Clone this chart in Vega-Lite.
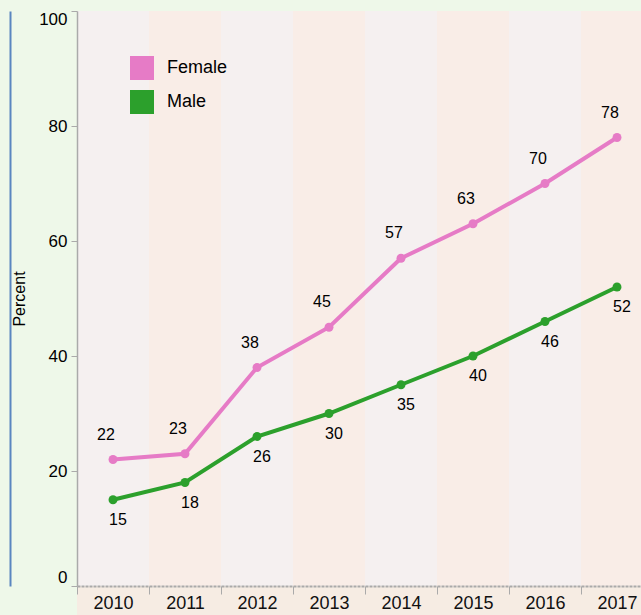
{
  "$schema": "https://vega.github.io/schema/vega-lite/v6.json",
  "width": 576,
  "height": 575,
  "autosize": {"type": "none"},
  "padding": {"left": 77, "top": 11, "right": 0, "bottom": 29},
  "background": "#eef8e9",
  "config": {
    "view": {"stroke": null},
    "font": "Liberation Sans",
    "text": {"font": "Liberation Sans"}
  },
  "resolve": {"axis": {"y": "independent"}},
  "datasets": {
    "bands": [
      {"Year": "2010"}, {"Year": "2011"}, {"Year": "2012"}, {"Year": "2013"},
      {"Year": "2014"}, {"Year": "2015"}, {"Year": "2016"}, {"Year": "2017"}
    ],
    "series": [
      {"Year": "2010", "Sex": "Female", "Percent": 22},
      {"Year": "2011", "Sex": "Female", "Percent": 23},
      {"Year": "2012", "Sex": "Female", "Percent": 38},
      {"Year": "2013", "Sex": "Female", "Percent": 45},
      {"Year": "2014", "Sex": "Female", "Percent": 57},
      {"Year": "2015", "Sex": "Female", "Percent": 63},
      {"Year": "2016", "Sex": "Female", "Percent": 70},
      {"Year": "2017", "Sex": "Female", "Percent": 78},
      {"Year": "2010", "Sex": "Male", "Percent": 15},
      {"Year": "2011", "Sex": "Male", "Percent": 18},
      {"Year": "2012", "Sex": "Male", "Percent": 26},
      {"Year": "2013", "Sex": "Male", "Percent": 30},
      {"Year": "2014", "Sex": "Male", "Percent": 35},
      {"Year": "2015", "Sex": "Male", "Percent": 40},
      {"Year": "2016", "Sex": "Male", "Percent": 46},
      {"Year": "2017", "Sex": "Male", "Percent": 52}
    ]
  },
  "layer": [
    {
      "data": {"name": "bands"},
      "mark": {"type": "rect"},
      "encoding": {
        "x": {"field": "Year", "type": "ordinal"},
        "y": {
          "datum": 0, "type": "quantitative",
          "axis": {
            "orient": "left", "offset": 67, "labels": false, "ticks": false,
            "title": null, "grid": false, "domainColor": "#5a86c0", "domainWidth": 2
          }
        },
        "y2": {"datum": 100},
        "fill": {
          "field": "Year", "type": "ordinal", "legend": null,
          "scale": {
            "domain": ["2010", "2011", "2012", "2013", "2014", "2015", "2016", "2017"],
            "range": ["#f5f0f0", "#f9ede7", "#f5f0f0", "#f9ede7", "#f5f0f0", "#f9ede7", "#f5f0f0", "#f9ede7"]
          }
        }
      }
    },
    {
      "data": {"name": "bands"},
      "mark": {"type": "rect", "fill": "#f6ece3", "clip": false},
      "encoding": {
        "x": {"field": "Year", "type": "ordinal"},
        "y": {"datum": 0, "type": "quantitative", "axis": null},
        "y2": {"datum": -5.2}
      }
    },
    {
      "data": {"name": "series"},
      "mark": {"type": "line", "strokeWidth": 4},
      "encoding": {
        "x": {
          "field": "Year", "type": "ordinal", "title": null,
          "scale": {"paddingInner": 0, "paddingOuter": 0},
          "axis": {
            "zindex": 1, "labelAngle": 0, "labelFontSize": 18, "labelColor": "#111",
            "labelFontWeight": "normal",
            "labelPadding": 9, "tickBand": "extent", "labelAlign": "center",
            "tickColor": "#aaa", "tickSize": 8,
            "domainColor": "#aaa", "domainDash": [3, 1], "domainWidth": 2
          }
        },
        "y": {
          "field": "Percent", "type": "quantitative", "title": "Percent",
          "scale": {"domain": [0, 100]},
          "axis": {
            "orient": "left",
            "zindex": 1, "grid": false, "values": [0, 20, 40, 60, 80, 100],
            "labelFontSize": 17, "labelColor": "#000", "labelFlush": true,
            "labelPadding": 4, "tickColor": "#aaa", "tickSize": 6,
            "domainColor": "#aaa", "domainWidth": 1.5,
            "titleFontSize": 16, "titleFontWeight": "normal", "titleColor": "#000",
            "titlePadding": 11
          }
        },
        "color": {
          "field": "Sex", "type": "nominal", "title": null,
          "scale": {"domain": ["Female", "Male"], "range": ["#e67bc6", "#2ca02c"]},
          "legend": {
            "orient": "none", "legendX": 53, "legendY": 45,
            "symbolType": "square", "symbolSize": 576, "symbolStrokeWidth": 0,
            "symbolOpacity": 1, "labelFontSize": 18, "labelColor": "#000",
            "labelOffset": 13, "rowPadding": 10
          }
        }
      }
    },
    {
      "data": {"name": "series"},
      "mark": {"type": "point", "filled": true, "size": 80, "opacity": 1},
      "encoding": {
        "x": {"field": "Year", "type": "ordinal"},
        "y": {"field": "Percent", "type": "quantitative", "axis": null},
        "color": {"field": "Sex", "type": "nominal"}
      }
    },
    {
      "data": {"name": "series"},
      "transform": [{"filter": "datum.Sex === 'Female'"}],
      "mark": {"type": "text", "fontSize": 16, "color": "#000", "dx": -7, "dy": -25},
      "encoding": {
        "x": {"field": "Year", "type": "ordinal"},
        "y": {"field": "Percent", "type": "quantitative", "axis": null},
        "text": {"field": "Percent", "type": "quantitative"}
      }
    },
    {
      "data": {"name": "series"},
      "transform": [{"filter": "datum.Sex === 'Male'"}],
      "mark": {"type": "text", "fontSize": 16, "color": "#000", "dx": 5, "dy": 20},
      "encoding": {
        "x": {"field": "Year", "type": "ordinal"},
        "y": {"field": "Percent", "type": "quantitative", "axis": null},
        "text": {"field": "Percent", "type": "quantitative"}
      }
    }
  ]
}
